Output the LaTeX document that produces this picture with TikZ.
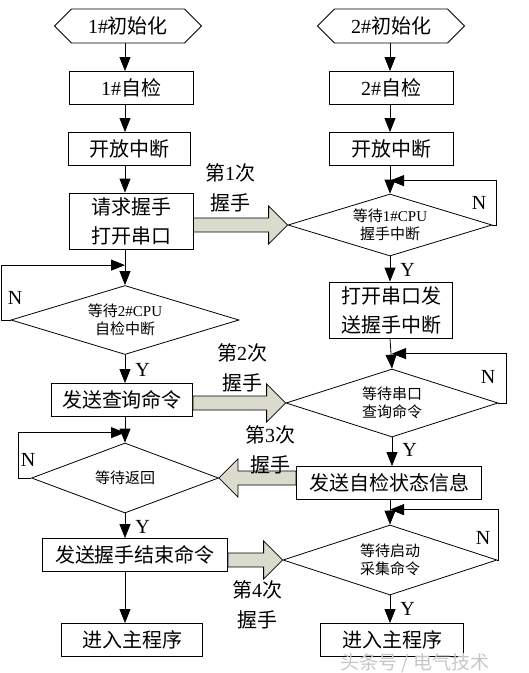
\documentclass[tikz,border=0pt]{standalone}
\usepackage{fontspec}
\setmainfont{Liberation Serif}
\newfontfamily\cjk{Noto Sans CJK SC}
\usetikzlibrary{shapes.geometric,shapes.symbols,arrows.meta,calc,positioning}

\definecolor{handfill}{RGB}{218,219,204}

% wide arrow for the handshakes, from the side of #1 to the tip at #2
\newcommand{\handshake}[2]{%
  \path (#1 |- #2) coordinate (hs-s) ($(#2)!19pt!(hs-s)$) coordinate (hs-h);
  \draw[handarrow] ($(hs-s)+(0,-7)$) -- ($(hs-h)+(0,-7)$) -- ($(hs-h)+(0,-19)$) -- (#2)
    -- ($(hs-h)+(0,19)$) -- ($(hs-h)+(0,7)$) -- ($(hs-s)+(0,7)$) -- cycle;}

\tikzset{
  box/.style={draw,fill=white,line width=0.8pt,minimum height=33pt,inner sep=1pt,font=\fontsize{20}{24}\selectfont},
  tallbox/.style={box,minimum height=56pt,align=center,font=\fontsize{20}{29}\selectfont},
  startbox/.style={signal,signal to=west and east,draw,line width=0.8pt,minimum width=147pt,minimum height=34pt,inner sep=0pt,font=\fontsize{20}{24}\selectfont},
  decision/.style={diamond,aspect=3.2,draw,line width=0.8pt,inner sep=0pt,align=center,font=\fontsize{15}{18}\selectfont},
  yl/.style={right,xshift=10pt,inner sep=0pt,font=\fontsize{20}{24}\selectfont},
  nl/.style={inner sep=0pt,font=\fontsize{20}{24}\selectfont},
  hs/.style={align=center,inner sep=0pt,font=\fontsize{20}{30}\selectfont},
  handarrow/.style={draw,fill=handfill,line width=0.8pt,line join=miter}
}

\begin{document}
\begin{tikzpicture}[x=1pt,y=-1pt,>={Triangle[length=14pt,width=11pt]},line width=0.8pt]
\useasboundingbox (0,0) rectangle (529,673);
\coordinate (colL) at (125,0);
\coordinate (colR) at (390,0);

% CPU 1
\node[startbox] (init1) at (128,26) {1\#{\cjk 初始化}};
\node[box,minimum width=124pt] (chk1) at (131,88) {1\#{\cjk 自检}};
\node[box,minimum width=122pt] (int1) at (129,149) {\cjk 开放中断};
\node[tallbox,minimum width=124pt] (req) at (131,221) {\cjk 请求握手\\\cjk 打开串口};
\node[decision,minimum width=228pt,minimum height=69pt] (d2) at (125,320) {{\cjk 等待}2\#CPU\\\cjk 自检中断};
\node[box,minimum width=141pt] (q1) at (122,400) {\cjk 发送查询命令};
\node[decision,aspect=2.7,minimum width=187pt,minimum height=70pt] (d4) at (125,478) {\cjk 等待返回};
\node[box,minimum width=185pt] (end1) at (135,555) {\cjk 发送握手结束命令};
\node[box,minimum width=141pt] (main1) at (132,640) {\cjk 进入主程序};

% CPU 2
\node[startbox] (init2) at (391,26) {2\#{\cjk 初始化}};
\node[box,minimum width=124pt] (chk2) at (391,88) {2\#{\cjk 自检}};
\node[box,minimum width=124pt] (int2) at (391,149) {\cjk 开放中断};
\node[decision,minimum width=204pt,minimum height=62pt] (d1) at (390,225) {{\cjk 等待}1\#CPU\\\cjk 握手中断};
\node[tallbox,minimum width=123pt] (open2) at (391,310) {\cjk 打开串口发\\\cjk 送握手中断};
\node[decision,aspect=3.1,minimum width=212pt,minimum height=68pt] (d3) at (392,403) {\cjk 等待串口\\\cjk 查询命令};
\node[box,minimum width=185pt] (st) at (389,483) {\cjk 发送自检状态信息};
\node[decision,aspect=3.05,minimum width=214pt,minimum height=70pt] (d5) at (390,560) {\cjk 等待启动\\\cjk 采集命令};
\node[box,minimum width=143pt] (main2) at (392,640) {\cjk 进入主程序};

% left column
\draw[->] (init1.south -| colL) -- (chk1.north -| colL);
\draw[->] (chk1.south -| colL) -- (int1.north -| colL);
\draw[->] (int1.south -| colL) -- (req.north -| colL);
\draw[->] (req.south -| colL) -- (d2.north);
\draw[->] (d2.west) -- ++(-9,0) |- ($(d2.north)+(0,-20)$);
\draw[->] (d2.south) -- node[yl,pos=0.55]{Y} (q1.north -| colL);
\draw[->] (q1.south -| colL) -- (d4.north);
\draw[->] (d4.west) -- ++(-13,0) |- ($(d4.north)+(0,-10)$);
\draw[->] (d4.south) -- node[yl,pos=0.55]{Y} (end1.north -| colL);
\draw[->] (end1.south -| colL) -- (main1.north -| colL);

% right column
\draw[->] (init2.south -| colR) -- (chk2.north -| colR);
\draw[->] (chk2.south -| colR) -- (int2.north -| colR);
\draw[->] (int2.south -| colR) -- (d1.north);
\draw[->] (d1.east) -- ++(4,0) |- ($(d1.north)+(0,-13)$);
\draw[->] (d1.south) -- node[yl,pos=0.55]{Y} (open2.north -| colR);
\draw[->] (open2.south -| colR) -- (d3.north);
\draw[->] (d3.east) -- ++(8,0) |- ($(d3.north)+(0,-15)$);
\draw[->] (d3.south) -- node[yl,pos=0.45]{Y} (st.north -| d3.south);
\draw[->] (st.south -| colR) -- (d5.north);
\draw[->] (d5.east) -- ++(1,0) |- ($(d5.north)+(0,-15)$);
\draw[->] (d5.south) -- node[yl,pos=0.5]{Y} (main2.north -| colR);

\node[nl] (n1) at (479,203) {N};
\node[nl] (n2) at (15,298) {N};
\node[nl] (n3) at (488,377) {N};
\node[nl] (n4) at (28,460) {N};
\node[nl] (n5) at (483,538) {N};

% handshakes
\handshake{req.east}{d1.west}
\handshake{q1.east}{d3.west}
\handshake{st.west}{d4.east}
\handshake{end1.east}{d5.west}
\node[hs] (hs1) at (230,188) {{\cjk 第}1{\cjk 次}\\\cjk 握手};
\node[hs] (hs2) at (242,368) {{\cjk 第}2{\cjk 次}\\\cjk 握手};
\node[hs] (hs3) at (270,450) {{\cjk 第}3{\cjk 次}\\\cjk 握手};
\node[hs] (hs4) at (257,605) {{\cjk 第}4{\cjk 次}\\\cjk 握手};

\node[inner sep=0pt,text=gray!45,font=\fontsize{19}{22}\selectfont] (wm) at (415,663) {\cjk 头条号 / 电气技术};
\end{tikzpicture}
\end{document}
